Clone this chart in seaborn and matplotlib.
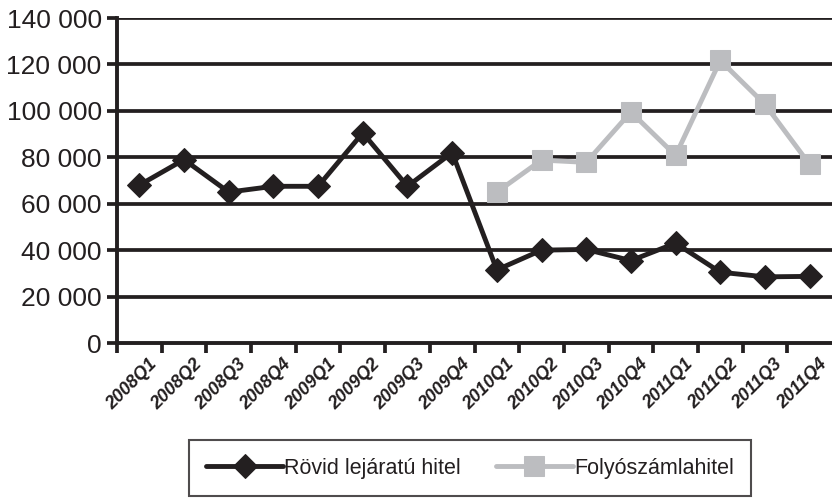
import numpy as np
import pandas as pd
import seaborn as sns
import matplotlib.pyplot as plt
import matplotlib.transforms as mtransforms
from matplotlib.ticker import FuncFormatter, FixedLocator

# adatok
quarters = ["2008Q1", "2008Q2", "2008Q3", "2008Q4", "2009Q1", "2009Q2", "2009Q3", "2009Q4",
            "2010Q1", "2010Q2", "2010Q3", "2010Q4", "2011Q1", "2011Q2", "2011Q3", "2011Q4"]
rovid = [68000, 79000, 65000, 67500, 67500, 90500, 67500, 82000,
         31500, 40000, 40300, 35500, 43000, 30500, 28500, 28700]
folyoszamla = [np.nan] * 8 + [65000, 78800, 77800, 99500, 80800, 121700, 102800, 76900]
labels = ["Rövid lejáratú hitel", "Folyószámlahitel"]

sns.set_style("white")
plt.rcParams["font.family"] = ["Liberation Sans", "DejaVu Sans"]

df = pd.DataFrame({"pos": np.arange(len(quarters)), "rovid": rovid, "folyo": folyoszamla})

fig = plt.figure(figsize=(8.32, 4.98), dpi=100)
ax = fig.add_axes([117 / 832, 155 / 498, 1 - 117 / 832, (343 - 18) / 498])

# vízszintes rácsvonalak
for v in range(20000, 140001, 20000):
    ax.axhline(v, color="#231f20", lw=2.7, zorder=1)

sns.lineplot(data=df, x="pos", y="rovid", ax=ax, color="#231f20", lw=3.5,
             marker="D", markersize=12, markeredgecolor="#231f20", label=labels[0], zorder=3)
sns.lineplot(data=df.dropna(), x="pos", y="folyo", ax=ax, color="#bcbdc0", lw=3.5,
             marker="s", markersize=15, markeredgecolor="#bcbdc0", label=labels[1], zorder=3)

ax.set_xlim(-0.5, len(quarters) - 0.5)
ax.set_ylim(0, 140000)
ax.set_xlabel("")
ax.set_ylabel("")

ax.yaxis.set_major_locator(FixedLocator(range(0, 140001, 20000)))
ax.yaxis.set_major_formatter(FuncFormatter(lambda v, p: f"{int(v):,}".replace(",", " ")))
ax.tick_params(axis="y", length=7, width=2.7, color="#231f20", labelsize=19, pad=4,
               labelcolor="#231f20", left=True)

# x: főbeosztás a kategóriák között, címkék a kategóriák közepén
ax.xaxis.set_major_locator(FixedLocator(np.arange(-0.5, len(quarters) - 0.5, 1)))
ax.xaxis.set_major_formatter(FuncFormatter(lambda v, p: ""))
ax.set_xticks(np.arange(len(quarters)), minor=True)
ax.set_xticklabels(quarters, minor=True, rotation=45, ha="right", rotation_mode="anchor",
                   fontsize=13, fontweight="bold", fontstyle="italic", color="#231f20",
                   family=["Liberation Sans Narrow", "Liberation Sans", "DejaVu Sans"])
ax.tick_params(axis="x", which="major", length=7, width=2.7, color="#231f20", bottom=True)
ax.tick_params(axis="x", which="minor", length=0, pad=9)
offset = mtransforms.ScaledTranslation(9 / 100, 0, fig.dpi_scale_trans)
for lab in ax.xaxis.get_minorticklabels():
    lab.set_transform(lab.get_transform() + offset)

for side in ["top", "right"]:
    ax.spines[side].set_visible(False)
for side in ["left", "bottom"]:
    ax.spines[side].set_color("#231f20")
    ax.spines[side].set_linewidth(2.8)

leg = ax.legend(loc="center", bbox_to_anchor=(470 / 832, 1 - 468 / 498),
                bbox_transform=fig.transFigure, ncol=2, frameon=True, fancybox=False,
                fontsize=15.5, handlelength=3.6, columnspacing=1.6, borderpad=0.8,
                borderaxespad=0, handletextpad=0.05)
leg.get_frame().set_edgecolor("#231f20")
leg.get_frame().set_linewidth(1.5)
for t in leg.get_texts():
    t.set_color("#231f20")

fig.savefig("out.png", dpi=100)
